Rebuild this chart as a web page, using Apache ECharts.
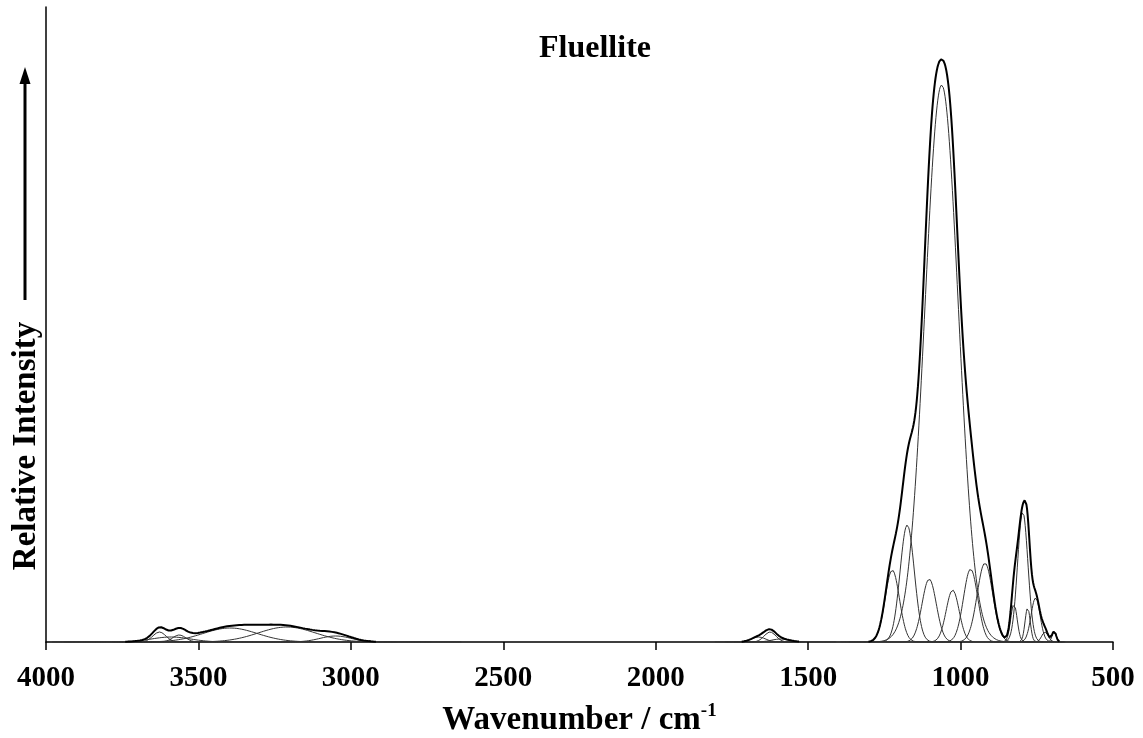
<!DOCTYPE html>
<html>
<head>
<meta charset="utf-8">
<script src="https://cdn.jsdelivr.net/npm/echarts@6/dist/echarts.min.js"></script>
<style>
html, body { margin: 0; padding: 0; background: #fff; }
#chart { width: 1143px; height: 738px; }
</style>
</head>
<body>
<div id="chart"></div>
<script>
// fitted bands: centre (cm-1), height (arb.), FWHM (cm-1)
var bandCentres = [3628, 3563, 3590, 3396, 3210, 3050,
                   1663, 1625, 1590,
                   1224, 1175, 1103, 1062, 1026, 967, 920,
                   825, 796, 780, 754, 723, 693];
var bandHeights = [10, 7, 5, 14, 15, 6,
                   5, 10, 3,
                   72, 117, 63, 557, 52, 73, 79,
                   38, 130, 34, 44, 10, 11];
var bandWidths  = [50, 50, 150, 210, 220, 120,
                   55, 45, 70,
                   55, 55, 55, 128, 50, 55, 60,
                   25, 40, 20, 35, 25, 15];
var xTicks = [4000, 3500, 3000, 2500, 2000, 1500, 1000, 500];

var serif = '"Liberation Serif", "Times New Roman", serif';

function band(i, x) {
    var d = (x - bandCentres[i]) / bandWidths[i];
    return bandHeights[i] * Math.exp(-4 * Math.LN2 * d * d);
}

var series = [];
for (var i = 0; i < bandCentres.length; i++) {
    var pts = [];
    var from = bandCentres[i] + 2.6 * bandWidths[i];
    var to = bandCentres[i] - 2.6 * bandWidths[i];
    for (var x = from; x >= to; x -= 2) {
        pts.push([x, band(i, x)]);
    }
    series.push({
        type: 'line', data: pts, showSymbol: false, silent: true,
        lineStyle: { color: '#333', width: 1 }
    });
}

// envelope = sum of the bands
var env = [];
for (var x = 3900; x >= 600; x -= 2) {
    var s = 0;
    for (var i = 0; i < bandCentres.length; i++) s += band(i, x);
    env.push([x, s > 0.3 ? s : null]);
}
series.push({
    type: 'line', data: env, showSymbol: false, silent: true, connectNulls: false,
    lineStyle: { color: '#000', width: 2 }
});

var myChart = echarts.init(document.getElementById('chart'));
var option = {
    animation: false,
    backgroundColor: '#fff',
    title: {
        text: 'Fluellite',
        left: 590, top: 28, textAlign: 'center',
        textStyle: { fontFamily: serif, fontWeight: 'bold', fontSize: 32, color: '#000' }
    },
    grid: { left: 46, right: 30, top: 7, bottom: 96, outerBoundsMode: 'none' },
    xAxis: {
        type: 'value', min: 500, max: 4000, interval: 500, inverse: true,
        name: '{a|Wavenumber / cm}{b|-1}',
        nameLocation: 'middle', nameGap: 60,
        nameTextStyle: {
            rich: {
                a: { fontFamily: serif, fontWeight: 'bold', fontSize: 33, color: '#000', lineHeight: 36 },
                b: { fontFamily: serif, fontWeight: 'bold', fontSize: 19, color: '#000', verticalAlign: 'top', lineHeight: 36 }
            }
        },
        axisLine: { lineStyle: { color: '#000', width: 1.5 } },
        axisTick: { length: 8, lineStyle: { color: '#000', width: 1.5 } },
        axisLabel: {
            margin: 22, color: '#000', fontFamily: serif, fontWeight: 'bold', fontSize: 29,
            formatter: function (v) { return xTicks.indexOf(v) >= 0 ? String(v) : ''; }
        },
        splitLine: { show: false }
    },
    yAxis: {
        type: 'value', min: 0, max: 635,
        axisLine: { show: true, lineStyle: { color: '#000', width: 1.5 } },
        axisTick: { show: false },
        axisLabel: { show: false },
        splitLine: { show: false }
    },
    graphic: [
        {
            type: 'text', x: 26, y: 446, rotation: Math.PI / 2,
            style: {
                text: 'Relative Intensity', fill: '#000',
                font: 'bold 33px ' + serif, textAlign: 'center', textVerticalAlign: 'middle'
            }
        },
        {
            type: 'line', shape: { x1: 25, y1: 300, x2: 25, y2: 80 },
            style: { stroke: '#000', lineWidth: 3 }
        },
        {
            type: 'polygon', shape: { points: [[25, 67], [19.5, 84], [30.5, 84]] },
            style: { fill: '#000' }
        }
    ],
    series: series
};
myChart.setOption(option);
</script>
</body>
</html>
